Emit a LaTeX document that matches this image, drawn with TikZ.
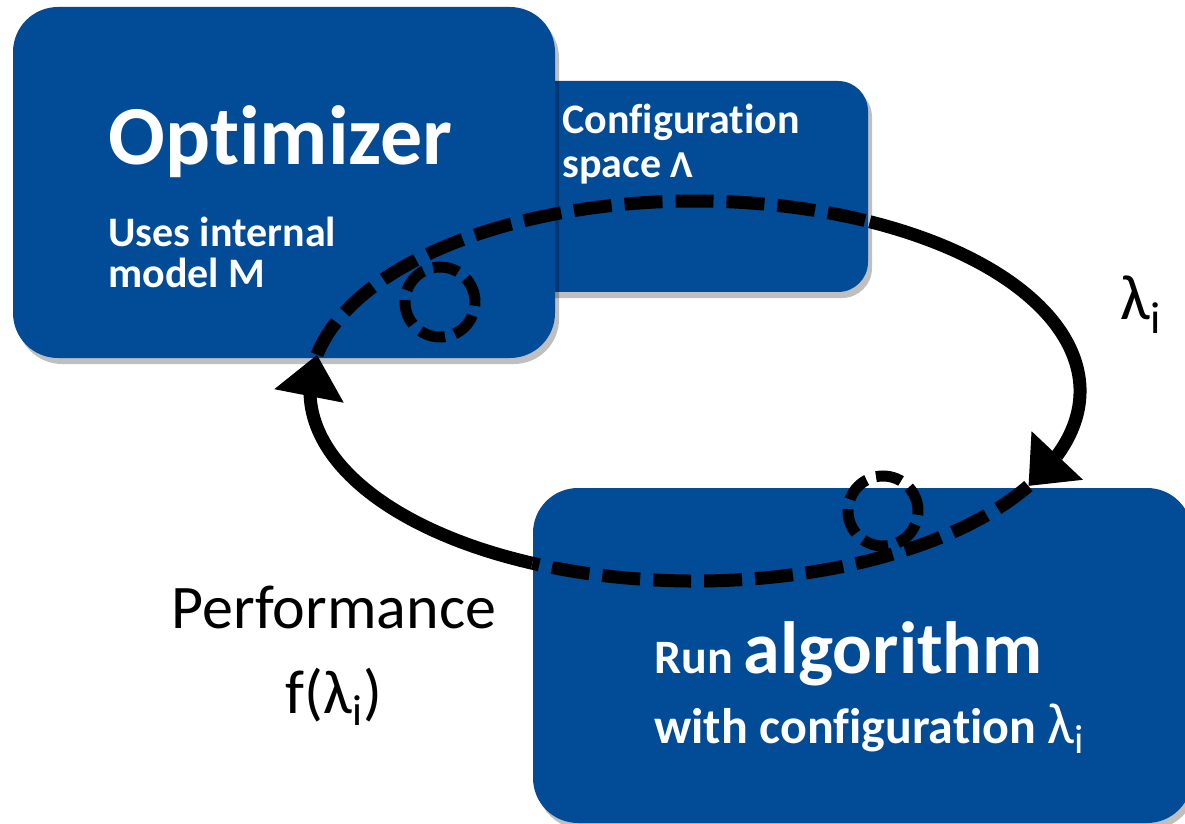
\documentclass[tikz,border=0pt]{standalone}
\usepackage{fontspec}
\setmainfont{Carlito}[Ligatures={NoCommon,NoContextual,NoRare}]
\usetikzlibrary{arrows.meta,shadows}
\definecolor{boxblue}{RGB}{2,75,151}
\tikzset{
  panel/.style={fill=boxblue, draw=none, inner sep=0pt,
    drop shadow={shadow xshift=2pt, shadow yshift=-3pt, opacity=0.25, fill=black}},
  boxtext/.style={text=white, inner sep=0pt, anchor=base west},
  plaintext/.style={text=black, inner sep=0pt, anchor=base},
  loopline/.style={line width=6.5pt, draw=black},
  dashline/.style={loopline, dash pattern=on 19pt off 6.5pt},
  ring/.style={circle, draw=black, line width=5.5pt, dash pattern=on 13pt off 5pt,
    minimum size=35pt, inner sep=0pt},
  tipend/.style={-{Triangle[length=21pt,width=34pt]}},
  ell/.style={x radius=385, y radius=190}
}
\begin{document}
\begin{tikzpicture}[x=0.5pt,y=-0.5pt]
\useasboundingbox (0,0) rectangle (1185,824);
% boxes
\node[panel, rounded corners=15pt, minimum width=184pt, minimum height=105.5pt] (cfg) at (684,186.5) {};
\node[panel, rounded corners=22.5pt, minimum width=271pt, minimum height=175.5pt] (opt) at (284,182.5) {};
\node[panel, rounded corners=22.5pt, minimum width=329.5pt, minimum height=167.5pt] (run) at (862.5,655.5) {};
% points on the cycle
\foreach \a in {20,30,115,180,191,297}{
  \coordinate (e\a) at ({695+385*cos(\a)},{391+190*sin(\a)});
}
% cycle
\draw[dashline] (e191) arc[start angle=191, end angle=297, ell];
\draw[loopline] (e297) arc[start angle=297, end angle=380, ell];
\draw[loopline, tipend] (e20) -- (e30);
\draw[dashline] (e30) arc[start angle=30, end angle=115, ell];
\draw[loopline] (e115) arc[start angle=115, end angle=180, ell];
\draw[loopline, tipend] (e180) -- (e191);
% small rings
\node[ring] (c1) at (440,302) {};
\node[ring] (c2) at (883,511) {};
% texts
\node[boxtext, font=\fontsize{42}{42}\selectfont\bfseries] (t1) at (108,165) {Optimizer};
\node[boxtext, font=\fontsize{21}{21}\selectfont\bfseries] (t2) at (108,247) {Uses internal};
\node[boxtext, font=\fontsize{21}{21}\selectfont\bfseries] (t3) at (108,287) {model M};
\node[boxtext, font=\fontsize{21}{21}\selectfont\bfseries] (t4) at (562,134) {Configuration};
\node[boxtext, font=\fontsize{21}{21}\selectfont\bfseries] (t5) at (562,178) {space {\fontsize{19}{19}\selectfont Λ}};
\node[boxtext, font=\fontsize{24}{24}\selectfont\bfseries] (t6) at (654,673) {Run {\fontsize{37}{37}\selectfont algorithm}};
\node[boxtext, font=\fontsize{25}{25}\selectfont\bfseries] (t7) at (654,743) {with configuration {\mdseries\fontsize{29}{29}\selectfont λ\textsubscript{i}}};
\node[plaintext, font=\fontsize{31}{31}\selectfont] (t8) at (334,628) {Performance};
\node[plaintext, font=\fontsize{31}{31}\selectfont] (t9) at (334,713) {f(λ\textsubscript{i})};
\node[boxtext, text=black, font=\fontsize{32}{32}\selectfont] (t10) at (1120,320) {λ\textsubscript{i}};
\end{tikzpicture}
\end{document}
